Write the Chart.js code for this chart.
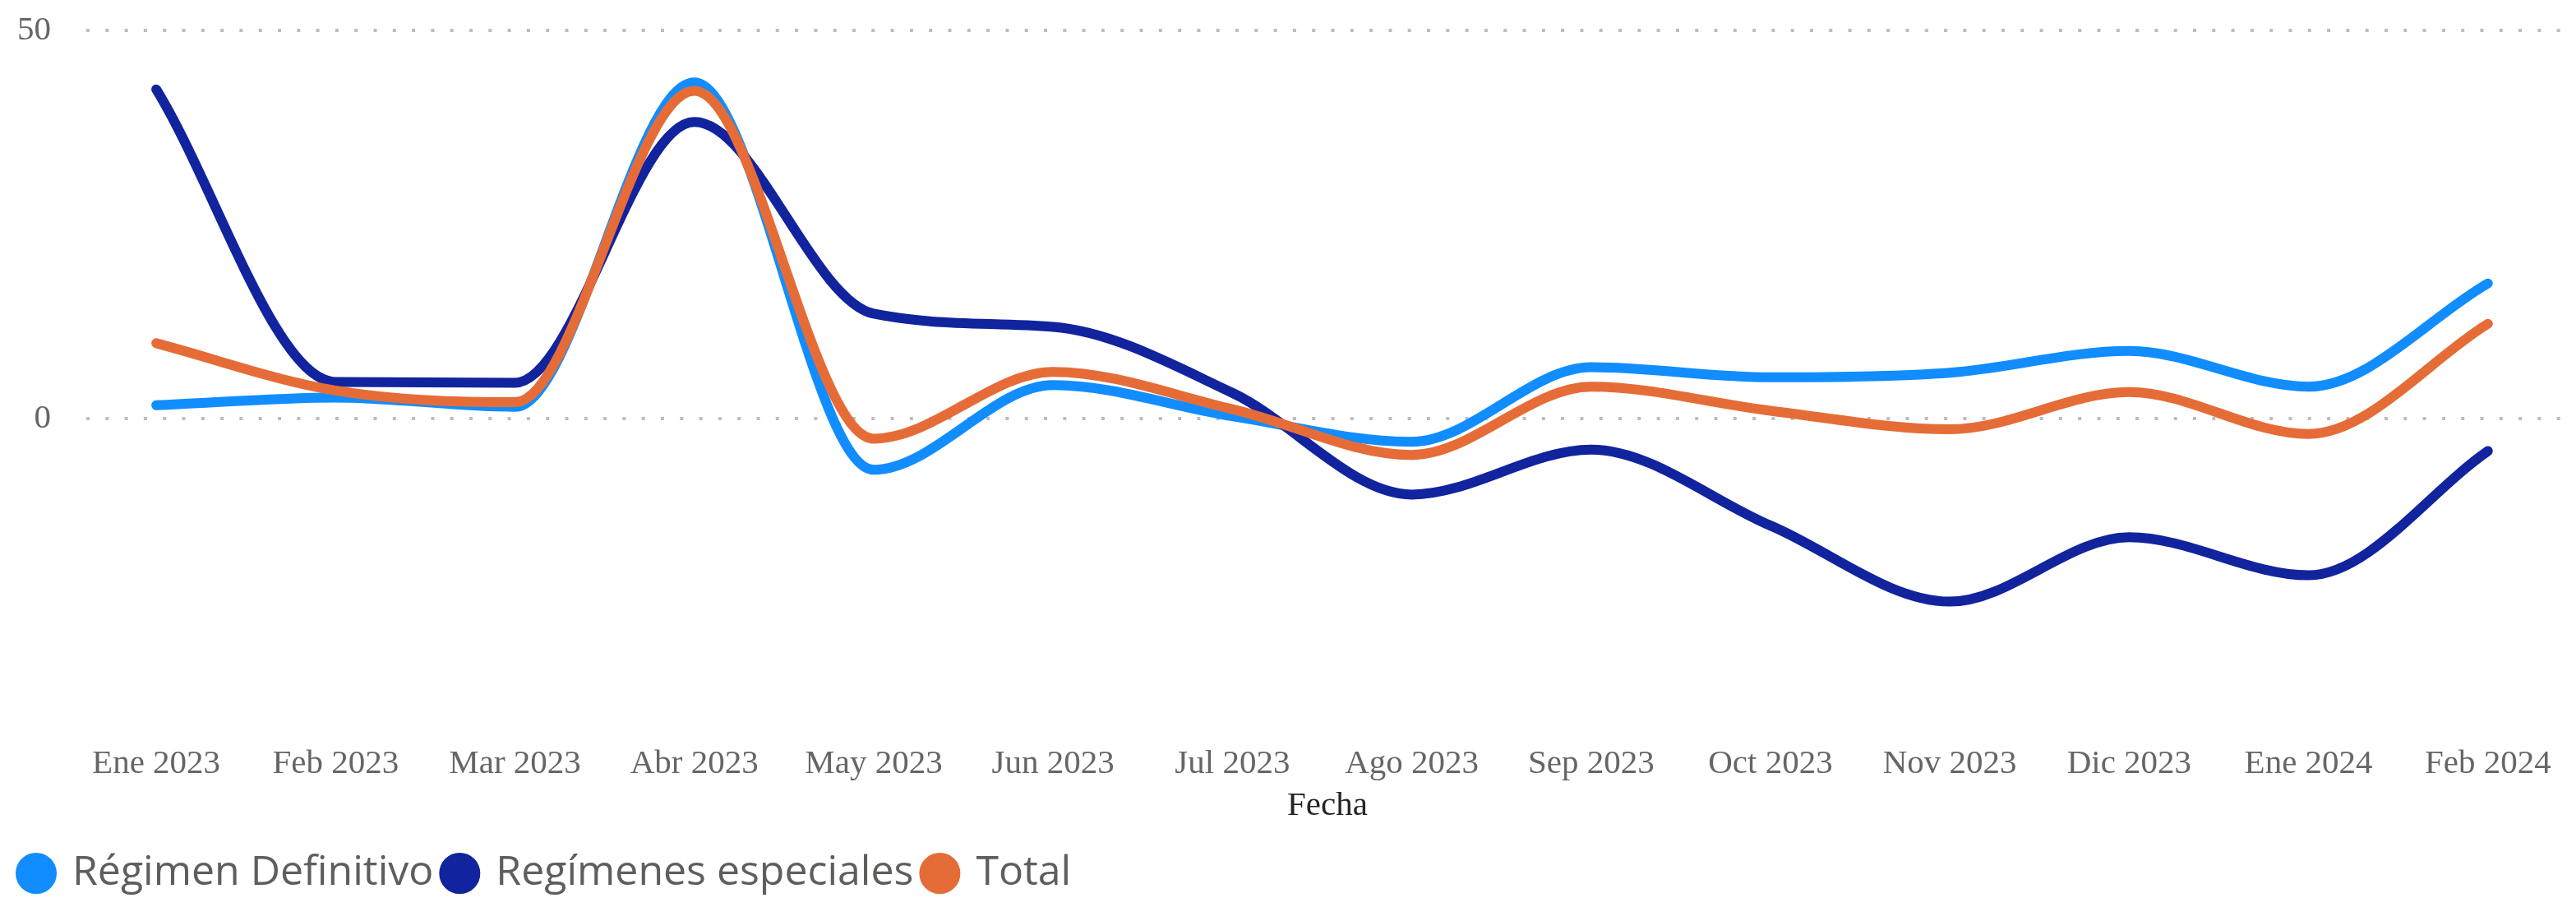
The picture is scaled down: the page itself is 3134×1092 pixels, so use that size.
<!DOCTYPE html>
<html>
<head>
<meta charset="utf-8">
<script src="https://cdn.jsdelivr.net/npm/chart.js@4.4.0/dist/chart.umd.min.js"></script>
<style>
  html, body { margin: 0; padding: 0; background: #fff; }
  #wrap { width: 3134px; height: 1092px; }
</style>
</head>
<body>
<div id="wrap"><canvas id="chart"></canvas></div>
<script>
const meses = ['Ene 2023', 'Feb 2023', 'Mar 2023', 'Abr 2023', 'May 2023', 'Jun 2023', 'Jul 2023',
  'Ago 2023', 'Sep 2023', 'Oct 2023', 'Nov 2023', 'Dic 2023', 'Ene 2024', 'Feb 2024'];
const regimenDefinitivo = [1.7, 2.7, 1.5, 43.3, -6.6, 4.3, 0.3, -3.0, 6.6, 5.3, 5.9, 8.7, 4.1, 17.4];
const regimenesEspeciales = [42.4, 4.7, 4.6, 38.2, 13.5, 11.8, 3.3, -9.8, -4.0, -13.8, -23.6, -15.3, -20.2, -4.2];
const total = [9.7, 3.6, 2.1, 42.2, -2.6, 6.0, 1.2, -4.7, 4.1, 1.0, -1.4, 3.4, -2.0, 12.2];
const yTicks = [0, 50];

const serif = 'Liberation Serif';
const toPoints = (values) => values.map((v, i) => ({ x: i, y: v }));

function serie(label, values, color, order) {
  return {
    label,
    data: toPoints(values),
    borderColor: color,
    backgroundColor: color,
    borderWidth: 12,
    borderCapStyle: 'round',
    borderJoinStyle: 'round',
    pointRadius: 0,
    cubicInterpolationMode: 'monotone',
    order,
  };
}

new Chart(document.getElementById('chart'), {
  type: 'line',
  data: {
    datasets: [
      serie('Régimen Definitivo', regimenDefinitivo, '#118DFF', 2),
      serie('Regímenes especiales', regimenesEspeciales, '#12239E', 1),
      serie('Total', total, '#E66C37', 0),
    ],
  },
  options: {
    responsive: true,
    maintainAspectRatio: false,
    animation: false,
    layout: { padding: { top: 37, left: 12, right: 9, bottom: -5 } },
    scales: {
      x: {
        type: 'linear',
        min: -0.39,
        max: 13.45,
        afterBuildTicks: (scale) => { scale.ticks = meses.map((_, i) => ({ value: i })); },
        grid: { display: false, drawTicks: false },
        border: { display: false },
        ticks: {
          autoSkip: false,
          maxRotation: 0,
          padding: 18,
          color: '#666666',
          font: { family: serif, size: 41 },
          callback: (v) => meses[v],
        },
        title: {
          display: true,
          text: 'Fecha',
          color: '#252423',
          font: { family: serif, size: 41, lineHeight: 0.4 },
          padding: { top: 0, bottom: 36 },
        },
      },
      y: {
        min: -40,
        max: 50,
        afterBuildTicks: (scale) => { scale.ticks = yTicks.map((v) => ({ value: v })); },
        afterFit: (scale) => {
          scale.width = 93;
          scale.paddingTop = 0;
          scale.paddingBottom = 0;
        },
        grid: { color: '#BDBDBD', lineWidth: 4, drawTicks: false },
        border: { display: false, dash: [4, 19.3] },
        ticks: {
          padding: 43,
          color: '#666666',
          font: { family: serif, size: 41 },
        },
      },
    },
    plugins: {
      tooltip: { enabled: false },
      legend: {
        position: 'bottom',
        align: 'start',
        labels: {
          usePointStyle: true,
          pointStyle: 'circle',
          pointStyleWidth: 38,
          boxHeight: 27,
          padding: 13,
          color: '#605E5C',
          font: { family: 'Open Sans', size: 50 },
          sort: (a, b) => a.datasetIndex - b.datasetIndex,
        },
      },
    },
  },
});
</script>
</body>
</html>
